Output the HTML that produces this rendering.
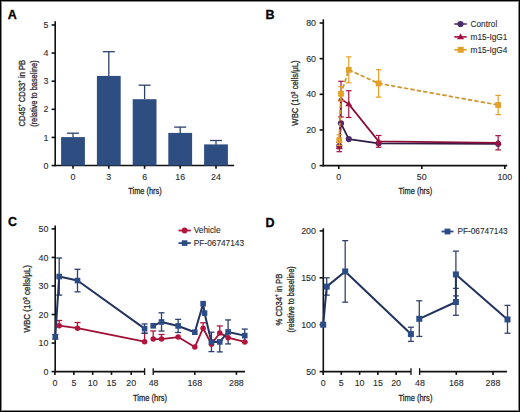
<!DOCTYPE html>
<html><head><meta charset="utf-8"><style>
html,body{margin:0;padding:0;background:#fff;}
#fig{width:520px;height:412px;overflow:hidden;position:relative;background:#fff;}
svg{display:block;font-family:"Liberation Sans", sans-serif;}
text{stroke:#2a2a2a;stroke-width:0.1px;}
text.t{stroke-width:0.3px;}
</style></head><body><div id="fig">
<svg width="520" height="412" viewBox="0 0 520 412">
<text x="7.80" y="19.00" font-size="12.5" text-anchor="start" fill="#000" font-weight="bold" style="stroke:#000;stroke-width:0.3px">A</text>
<text x="265.50" y="19.20" font-size="12.5" text-anchor="start" fill="#000" font-weight="bold" style="stroke:#000;stroke-width:0.3px">B</text>
<text x="8.00" y="226.30" font-size="12.5" text-anchor="start" fill="#000" font-weight="bold" style="stroke:#000;stroke-width:0.3px">C</text>
<text x="265.40" y="226.50" font-size="12.5" text-anchor="start" fill="#000" font-weight="bold" style="stroke:#000;stroke-width:0.3px">D</text>
<line x1="55.20" y1="21.30" x2="55.20" y2="166.30" stroke="#111" stroke-width="1.6" />
<line x1="54.40" y1="165.55" x2="234.20" y2="165.55" stroke="#111" stroke-width="1.6" />
<line x1="51.60" y1="165.55" x2="55.20" y2="165.55" stroke="#111" stroke-width="1.6" />
<text x="48.40" y="168.65" font-size="8.9" text-anchor="end" fill="#2a2a2a" font-weight="normal" >0</text>
<line x1="51.60" y1="137.43" x2="55.20" y2="137.43" stroke="#111" stroke-width="1.6" />
<text x="48.40" y="140.53" font-size="8.9" text-anchor="end" fill="#2a2a2a" font-weight="normal" >1</text>
<line x1="51.60" y1="109.31" x2="55.20" y2="109.31" stroke="#111" stroke-width="1.6" />
<text x="48.40" y="112.41" font-size="8.9" text-anchor="end" fill="#2a2a2a" font-weight="normal" >2</text>
<line x1="51.60" y1="81.19" x2="55.20" y2="81.19" stroke="#111" stroke-width="1.6" />
<text x="48.40" y="84.29" font-size="8.9" text-anchor="end" fill="#2a2a2a" font-weight="normal" >3</text>
<line x1="51.60" y1="53.07" x2="55.20" y2="53.07" stroke="#111" stroke-width="1.6" />
<text x="48.40" y="56.17" font-size="8.9" text-anchor="end" fill="#2a2a2a" font-weight="normal" >4</text>
<line x1="51.60" y1="24.95" x2="55.20" y2="24.95" stroke="#111" stroke-width="1.6" />
<text x="48.40" y="28.05" font-size="8.9" text-anchor="end" fill="#2a2a2a" font-weight="normal" >5</text>
<line x1="73.00" y1="137.10" x2="73.00" y2="133.20" stroke="#2d416b" stroke-width="1.3" />
<line x1="67.00" y1="133.20" x2="79.00" y2="133.20" stroke="#2d416b" stroke-width="1.3" />
<rect x="61.10" y="137.10" width="23.8" height="28.45" fill="#2e4d80"/>
<line x1="73.00" y1="165.55" x2="73.00" y2="168.85" stroke="#111" stroke-width="1.6" />
<text x="73.00" y="180.30" font-size="8.9" text-anchor="middle" fill="#2a2a2a" font-weight="normal" >0</text>
<line x1="108.80" y1="75.90" x2="108.80" y2="51.70" stroke="#2d416b" stroke-width="1.3" />
<line x1="102.80" y1="51.70" x2="114.80" y2="51.70" stroke="#2d416b" stroke-width="1.3" />
<rect x="96.90" y="75.90" width="23.8" height="89.65" fill="#2e4d80"/>
<line x1="108.80" y1="165.55" x2="108.80" y2="168.85" stroke="#111" stroke-width="1.6" />
<text x="108.80" y="180.30" font-size="8.9" text-anchor="middle" fill="#2a2a2a" font-weight="normal" >3</text>
<line x1="144.60" y1="99.20" x2="144.60" y2="85.20" stroke="#2d416b" stroke-width="1.3" />
<line x1="138.60" y1="85.20" x2="150.60" y2="85.20" stroke="#2d416b" stroke-width="1.3" />
<rect x="132.70" y="99.20" width="23.8" height="66.35" fill="#2e4d80"/>
<line x1="144.60" y1="165.55" x2="144.60" y2="168.85" stroke="#111" stroke-width="1.6" />
<text x="144.60" y="180.30" font-size="8.9" text-anchor="middle" fill="#2a2a2a" font-weight="normal" >6</text>
<line x1="180.20" y1="132.90" x2="180.20" y2="127.10" stroke="#2d416b" stroke-width="1.3" />
<line x1="174.20" y1="127.10" x2="186.20" y2="127.10" stroke="#2d416b" stroke-width="1.3" />
<rect x="168.30" y="132.90" width="23.8" height="32.65" fill="#2e4d80"/>
<line x1="180.20" y1="165.55" x2="180.20" y2="168.85" stroke="#111" stroke-width="1.6" />
<text x="180.20" y="180.30" font-size="8.9" text-anchor="middle" fill="#2a2a2a" font-weight="normal" >16</text>
<line x1="216.00" y1="144.40" x2="216.00" y2="140.50" stroke="#2d416b" stroke-width="1.3" />
<line x1="210.00" y1="140.50" x2="222.00" y2="140.50" stroke="#2d416b" stroke-width="1.3" />
<rect x="204.10" y="144.40" width="23.8" height="21.15" fill="#2e4d80"/>
<line x1="216.00" y1="165.55" x2="216.00" y2="168.85" stroke="#111" stroke-width="1.6" />
<text x="216.00" y="180.30" font-size="8.9" text-anchor="middle" fill="#2a2a2a" font-weight="normal" >24</text>
<text class="t" x="128.30" y="194.30" font-size="9.3" fill="#2a2a2a" textLength="33.4" lengthAdjust="spacingAndGlyphs">Time (hrs)</text>
<text class="t" transform="translate(25.00,93.20) rotate(-90)" x="0" y="0" font-size="9.3" text-anchor="middle" fill="#2a2a2a" textLength="66.5" lengthAdjust="spacingAndGlyphs">CD45<tspan font-size="5.8" dy="-3.6">+</tspan><tspan dy="3.6"> CD33</tspan><tspan font-size="5.8" dy="-3.6">+</tspan><tspan dy="3.6"> in PB</tspan></text>
<text class="t" transform="translate(36.80,93.60) rotate(-90)" x="0" y="0" font-size="9.3" text-anchor="middle" fill="#2a2a2a" textLength="66.5" lengthAdjust="spacingAndGlyphs">(relative to baseline)</text>
<line x1="323.30" y1="19.30" x2="323.30" y2="166.35" stroke="#111" stroke-width="1.6" />
<line x1="322.50" y1="165.60" x2="507.20" y2="165.60" stroke="#111" stroke-width="1.6" />
<line x1="319.60" y1="165.60" x2="323.30" y2="165.60" stroke="#111" stroke-width="1.6" />
<text x="316.00" y="168.70" font-size="8.9" text-anchor="end" fill="#2a2a2a" font-weight="normal" >0</text>
<line x1="319.60" y1="129.95" x2="323.30" y2="129.95" stroke="#111" stroke-width="1.6" />
<text x="316.00" y="133.05" font-size="8.9" text-anchor="end" fill="#2a2a2a" font-weight="normal" >20</text>
<line x1="319.60" y1="94.30" x2="323.30" y2="94.30" stroke="#111" stroke-width="1.6" />
<text x="316.00" y="97.40" font-size="8.9" text-anchor="end" fill="#2a2a2a" font-weight="normal" >40</text>
<line x1="319.60" y1="58.65" x2="323.30" y2="58.65" stroke="#111" stroke-width="1.6" />
<text x="316.00" y="61.75" font-size="8.9" text-anchor="end" fill="#2a2a2a" font-weight="normal" >60</text>
<line x1="319.60" y1="23.00" x2="323.30" y2="23.00" stroke="#111" stroke-width="1.6" />
<text x="316.00" y="26.10" font-size="8.9" text-anchor="end" fill="#2a2a2a" font-weight="normal" >80</text>
<line x1="338.80" y1="165.60" x2="338.80" y2="168.90" stroke="#111" stroke-width="1.6" />
<text x="338.80" y="180.30" font-size="8.9" text-anchor="middle" fill="#2a2a2a" font-weight="normal" >0</text>
<line x1="421.80" y1="165.60" x2="421.80" y2="168.90" stroke="#111" stroke-width="1.6" />
<text x="421.80" y="180.30" font-size="8.9" text-anchor="middle" fill="#2a2a2a" font-weight="normal" >50</text>
<line x1="504.80" y1="165.60" x2="504.80" y2="168.90" stroke="#111" stroke-width="1.6" />
<text x="504.80" y="180.30" font-size="8.9" text-anchor="middle" fill="#2a2a2a" font-weight="normal" >100</text>
<text class="t" x="398.60" y="194.30" font-size="9.3" fill="#2a2a2a" textLength="33.6" lengthAdjust="spacingAndGlyphs">Time (hrs)</text>
<text class="t" transform="translate(298.30,93.00) rotate(-90)" x="0" y="0" font-size="9.3" text-anchor="middle" fill="#2a2a2a" textLength="65.3" lengthAdjust="spacingAndGlyphs">WBC (10<tspan font-size="5.8" dy="-3.6">3</tspan><tspan dy="3.6"> cells/μL)</tspan></text>
<polyline points="339.30,145.99 341.00,123.35 348.76,139.04 378.64,143.32 498.16,143.85" fill="none" stroke="#2e1c45" stroke-width="1.7" stroke-linejoin="round" />
<circle cx="339.30" cy="145.99" r="3.1" fill="#4b2d6b"/>
<circle cx="341.00" cy="123.35" r="3.1" fill="#4b2d6b"/>
<circle cx="348.76" cy="139.04" r="3.1" fill="#4b2d6b"/>
<circle cx="378.64" cy="143.32" r="3.1" fill="#4b2d6b"/>
<circle cx="498.16" cy="143.85" r="3.1" fill="#4b2d6b"/>
<line x1="339.30" y1="142.43" x2="339.30" y2="151.70" stroke="#a3123f" stroke-width="1.2" />
<line x1="336.50" y1="142.43" x2="342.10" y2="142.43" stroke="#a3123f" stroke-width="1.2" />
<line x1="336.50" y1="151.70" x2="342.10" y2="151.70" stroke="#a3123f" stroke-width="1.2" />
<line x1="341.00" y1="81.29" x2="341.00" y2="116.94" stroke="#a3123f" stroke-width="1.2" />
<line x1="338.20" y1="81.29" x2="343.80" y2="81.29" stroke="#a3123f" stroke-width="1.2" />
<line x1="338.20" y1="116.94" x2="343.80" y2="116.94" stroke="#a3123f" stroke-width="1.2" />
<line x1="348.76" y1="90.73" x2="348.76" y2="117.47" stroke="#a3123f" stroke-width="1.2" />
<line x1="345.96" y1="90.73" x2="351.56" y2="90.73" stroke="#a3123f" stroke-width="1.2" />
<line x1="345.96" y1="117.47" x2="351.56" y2="117.47" stroke="#a3123f" stroke-width="1.2" />
<line x1="378.64" y1="135.48" x2="378.64" y2="147.24" stroke="#a3123f" stroke-width="1.2" />
<line x1="375.84" y1="135.48" x2="381.44" y2="135.48" stroke="#a3123f" stroke-width="1.2" />
<line x1="375.84" y1="147.24" x2="381.44" y2="147.24" stroke="#a3123f" stroke-width="1.2" />
<line x1="498.16" y1="135.65" x2="498.16" y2="149.91" stroke="#a3123f" stroke-width="1.2" />
<line x1="495.36" y1="135.65" x2="500.96" y2="135.65" stroke="#a3123f" stroke-width="1.2" />
<line x1="495.36" y1="149.91" x2="500.96" y2="149.91" stroke="#a3123f" stroke-width="1.2" />
<polyline points="339.30,147.06 341.00,99.11 348.76,104.10 378.64,141.36 498.16,142.78" fill="none" stroke="#8a0e38" stroke-width="1.7" stroke-linejoin="round" />
<polygon points="339.30,143.70 342.80,149.30 335.80,149.30" fill="#a3123f"/>
<polygon points="341.00,95.75 344.50,101.35 337.50,101.35" fill="#a3123f"/>
<polygon points="348.76,100.74 352.26,106.34 345.26,106.34" fill="#a3123f"/>
<polygon points="378.64,138.00 382.14,143.60 375.14,143.60" fill="#a3123f"/>
<polygon points="498.16,139.42 501.66,145.02 494.66,145.02" fill="#a3123f"/>
<line x1="339.30" y1="134.76" x2="339.30" y2="145.46" stroke="#e3a028" stroke-width="1.2" />
<line x1="336.50" y1="134.76" x2="342.10" y2="134.76" stroke="#e3a028" stroke-width="1.2" />
<line x1="336.50" y1="145.46" x2="342.10" y2="145.46" stroke="#e3a028" stroke-width="1.2" />
<line x1="341.00" y1="86.64" x2="341.00" y2="100.90" stroke="#e3a028" stroke-width="1.2" />
<line x1="338.20" y1="86.64" x2="343.80" y2="86.64" stroke="#e3a028" stroke-width="1.2" />
<line x1="338.20" y1="100.90" x2="343.80" y2="100.90" stroke="#e3a028" stroke-width="1.2" />
<line x1="348.76" y1="56.87" x2="348.76" y2="82.89" stroke="#e3a028" stroke-width="1.2" />
<line x1="345.96" y1="56.87" x2="351.56" y2="56.87" stroke="#e3a028" stroke-width="1.2" />
<line x1="345.96" y1="82.89" x2="351.56" y2="82.89" stroke="#e3a028" stroke-width="1.2" />
<line x1="378.64" y1="69.70" x2="378.64" y2="97.15" stroke="#e3a028" stroke-width="1.2" />
<line x1="375.84" y1="69.70" x2="381.44" y2="69.70" stroke="#e3a028" stroke-width="1.2" />
<line x1="375.84" y1="97.15" x2="381.44" y2="97.15" stroke="#e3a028" stroke-width="1.2" />
<line x1="498.16" y1="95.37" x2="498.16" y2="114.62" stroke="#e3a028" stroke-width="1.2" />
<line x1="495.36" y1="95.37" x2="500.96" y2="95.37" stroke="#e3a028" stroke-width="1.2" />
<line x1="495.36" y1="114.62" x2="500.96" y2="114.62" stroke="#e3a028" stroke-width="1.2" />
<polyline points="339.30,140.11 341.00,93.77 348.76,69.88 378.64,83.43 498.16,105.00" fill="none" stroke="#cc9530" stroke-width="1.7" stroke-linejoin="round" stroke-dasharray="4.4 2.1"/>
<rect x="336.40" y="137.21" width="5.8" height="5.8" fill="#e3a028"/>
<rect x="338.10" y="90.87" width="5.8" height="5.8" fill="#e3a028"/>
<rect x="345.86" y="66.98" width="5.8" height="5.8" fill="#e3a028"/>
<rect x="375.74" y="80.53" width="5.8" height="5.8" fill="#e3a028"/>
<rect x="495.26" y="102.09" width="5.8" height="5.8" fill="#e3a028"/>
<line x1="454.30" y1="24.00" x2="466.70" y2="24.00" stroke="#4b2d6b" stroke-width="1.6" />
<circle cx="460.50" cy="24.00" r="3.1" fill="#4b2d6b"/>
<text x="470.50" y="27.00" font-size="8.3" text-anchor="start" fill="#2a2a2a" font-weight="normal" >Control</text>
<line x1="454.30" y1="36.90" x2="466.70" y2="36.90" stroke="#a3123f" stroke-width="1.6" />
<polygon points="460.50,33.44 464.10,39.20 456.90,39.20" fill="#a3123f"/>
<text x="470.50" y="39.90" font-size="8.3" text-anchor="start" fill="#2a2a2a" font-weight="normal" >m15-IgG1</text>
<line x1="454.30" y1="49.80" x2="466.70" y2="49.80" stroke="#e3a028" stroke-width="1.6" />
<rect x="457.70" y="46.80" width="6.0" height="6.0" fill="#e3a028"/>
<text x="470.50" y="52.80" font-size="8.3" text-anchor="start" fill="#2a2a2a" font-weight="normal" >m15-IgG4</text>
<line x1="55.20" y1="225.40" x2="55.20" y2="372.35" stroke="#111" stroke-width="1.6" />
<line x1="51.60" y1="371.60" x2="55.20" y2="371.60" stroke="#111" stroke-width="1.6" />
<text x="48.40" y="374.70" font-size="8.9" text-anchor="end" fill="#2a2a2a" font-weight="normal" >0</text>
<line x1="51.60" y1="343.06" x2="55.20" y2="343.06" stroke="#111" stroke-width="1.6" />
<text x="48.40" y="346.16" font-size="8.9" text-anchor="end" fill="#2a2a2a" font-weight="normal" >10</text>
<line x1="51.60" y1="314.52" x2="55.20" y2="314.52" stroke="#111" stroke-width="1.6" />
<text x="48.40" y="317.62" font-size="8.9" text-anchor="end" fill="#2a2a2a" font-weight="normal" >20</text>
<line x1="51.60" y1="285.98" x2="55.20" y2="285.98" stroke="#111" stroke-width="1.6" />
<text x="48.40" y="289.08" font-size="8.9" text-anchor="end" fill="#2a2a2a" font-weight="normal" >30</text>
<line x1="51.60" y1="257.44" x2="55.20" y2="257.44" stroke="#111" stroke-width="1.6" />
<text x="48.40" y="260.54" font-size="8.9" text-anchor="end" fill="#2a2a2a" font-weight="normal" >40</text>
<line x1="51.60" y1="228.90" x2="55.20" y2="228.90" stroke="#111" stroke-width="1.6" />
<text x="48.40" y="232.00" font-size="8.9" text-anchor="end" fill="#2a2a2a" font-weight="normal" >50</text>
<line x1="54.40" y1="371.60" x2="144.60" y2="371.60" stroke="#111" stroke-width="1.6" />
<line x1="144.60" y1="368.20" x2="144.60" y2="375.00" stroke="#111" stroke-width="1.3" />
<line x1="153.20" y1="371.60" x2="245.00" y2="371.60" stroke="#111" stroke-width="1.6" />
<line x1="153.20" y1="368.20" x2="153.20" y2="375.00" stroke="#111" stroke-width="1.3" />
<line x1="54.90" y1="371.60" x2="54.90" y2="374.90" stroke="#111" stroke-width="1.6" />
<text x="54.90" y="386.10" font-size="8.9" text-anchor="middle" fill="#2a2a2a" font-weight="normal" >0</text>
<line x1="73.90" y1="371.60" x2="73.90" y2="374.90" stroke="#111" stroke-width="1.6" />
<text x="73.90" y="386.10" font-size="8.9" text-anchor="middle" fill="#2a2a2a" font-weight="normal" >5</text>
<line x1="92.70" y1="371.60" x2="92.70" y2="374.90" stroke="#111" stroke-width="1.6" />
<text x="92.70" y="386.10" font-size="8.9" text-anchor="middle" fill="#2a2a2a" font-weight="normal" >10</text>
<line x1="111.50" y1="371.60" x2="111.50" y2="374.90" stroke="#111" stroke-width="1.6" />
<text x="111.50" y="386.10" font-size="8.9" text-anchor="middle" fill="#2a2a2a" font-weight="normal" >15</text>
<line x1="131.20" y1="371.60" x2="131.20" y2="374.90" stroke="#111" stroke-width="1.6" />
<text x="131.20" y="386.10" font-size="8.9" text-anchor="middle" fill="#2a2a2a" font-weight="normal" >20</text>
<text x="153.60" y="386.10" font-size="8.9" text-anchor="middle" fill="#2a2a2a" font-weight="normal" >48</text>
<line x1="194.80" y1="371.60" x2="194.80" y2="374.90" stroke="#111" stroke-width="1.6" />
<text x="194.80" y="386.10" font-size="8.9" text-anchor="middle" fill="#2a2a2a" font-weight="normal" >168</text>
<line x1="236.41" y1="371.60" x2="236.41" y2="374.90" stroke="#111" stroke-width="1.6" />
<text x="236.41" y="386.10" font-size="8.9" text-anchor="middle" fill="#2a2a2a" font-weight="normal" >288</text>
<text class="t" x="133.00" y="400.60" font-size="9.3" fill="#2a2a2a" textLength="34.0" lengthAdjust="spacingAndGlyphs">Time (hrs)</text>
<text class="t" transform="translate(30.20,298.80) rotate(-90)" x="0" y="0" font-size="9.3" text-anchor="middle" fill="#2a2a2a" textLength="67.5" lengthAdjust="spacingAndGlyphs">WBC (10<tspan font-size="5.8" dy="-3.6">3</tspan><tspan dy="3.6"> cells/μL)</tspan></text>
<line x1="59.20" y1="320.51" x2="59.20" y2="325.65" stroke="#b3143e" stroke-width="1.3" />
<line x1="56.20" y1="320.51" x2="62.20" y2="320.51" stroke="#b3143e" stroke-width="1.3" />
<line x1="77.50" y1="322.51" x2="77.50" y2="328.22" stroke="#b3143e" stroke-width="1.3" />
<line x1="74.50" y1="322.51" x2="80.50" y2="322.51" stroke="#b3143e" stroke-width="1.3" />
<line x1="144.60" y1="333.07" x2="144.60" y2="341.63" stroke="#b3143e" stroke-width="1.3" />
<line x1="141.60" y1="333.07" x2="147.60" y2="333.07" stroke="#b3143e" stroke-width="1.3" />
<line x1="153.20" y1="330.93" x2="153.20" y2="339.06" stroke="#b3143e" stroke-width="1.3" />
<line x1="150.20" y1="330.93" x2="156.20" y2="330.93" stroke="#b3143e" stroke-width="1.3" />
<line x1="161.52" y1="334.50" x2="161.52" y2="339.06" stroke="#b3143e" stroke-width="1.3" />
<line x1="158.52" y1="334.50" x2="164.52" y2="334.50" stroke="#b3143e" stroke-width="1.3" />
<line x1="203.12" y1="322.80" x2="203.12" y2="328.22" stroke="#b3143e" stroke-width="1.3" />
<line x1="200.12" y1="322.80" x2="206.12" y2="322.80" stroke="#b3143e" stroke-width="1.3" />
<line x1="219.77" y1="325.94" x2="219.77" y2="333.07" stroke="#b3143e" stroke-width="1.3" />
<line x1="216.77" y1="325.94" x2="222.77" y2="325.94" stroke="#b3143e" stroke-width="1.3" />
<line x1="55.30" y1="334.50" x2="55.30" y2="339.06" stroke="#2b3f6e" stroke-width="1.3" />
<line x1="52.30" y1="334.50" x2="58.30" y2="334.50" stroke="#2b3f6e" stroke-width="1.3" />
<line x1="52.30" y1="339.06" x2="58.30" y2="339.06" stroke="#2b3f6e" stroke-width="1.3" />
<line x1="59.20" y1="258.01" x2="59.20" y2="295.11" stroke="#2b3f6e" stroke-width="1.3" />
<line x1="56.20" y1="258.01" x2="62.20" y2="258.01" stroke="#2b3f6e" stroke-width="1.3" />
<line x1="56.20" y1="295.11" x2="62.20" y2="295.11" stroke="#2b3f6e" stroke-width="1.3" />
<line x1="77.50" y1="269.28" x2="77.50" y2="291.83" stroke="#2b3f6e" stroke-width="1.3" />
<line x1="74.50" y1="269.28" x2="80.50" y2="269.28" stroke="#2b3f6e" stroke-width="1.3" />
<line x1="74.50" y1="291.83" x2="80.50" y2="291.83" stroke="#2b3f6e" stroke-width="1.3" />
<line x1="144.60" y1="323.94" x2="144.60" y2="333.36" stroke="#2b3f6e" stroke-width="1.3" />
<line x1="141.60" y1="323.94" x2="147.60" y2="323.94" stroke="#2b3f6e" stroke-width="1.3" />
<line x1="141.60" y1="333.36" x2="147.60" y2="333.36" stroke="#2b3f6e" stroke-width="1.3" />
<line x1="161.52" y1="312.81" x2="161.52" y2="331.07" stroke="#2b3f6e" stroke-width="1.3" />
<line x1="158.52" y1="312.81" x2="164.52" y2="312.81" stroke="#2b3f6e" stroke-width="1.3" />
<line x1="158.52" y1="331.07" x2="164.52" y2="331.07" stroke="#2b3f6e" stroke-width="1.3" />
<line x1="178.16" y1="319.37" x2="178.16" y2="332.50" stroke="#2b3f6e" stroke-width="1.3" />
<line x1="175.16" y1="319.37" x2="181.16" y2="319.37" stroke="#2b3f6e" stroke-width="1.3" />
<line x1="175.16" y1="332.50" x2="181.16" y2="332.50" stroke="#2b3f6e" stroke-width="1.3" />
<line x1="211.45" y1="332.21" x2="211.45" y2="351.62" stroke="#2b3f6e" stroke-width="1.3" />
<line x1="208.45" y1="332.21" x2="214.45" y2="332.21" stroke="#2b3f6e" stroke-width="1.3" />
<line x1="208.45" y1="351.62" x2="214.45" y2="351.62" stroke="#2b3f6e" stroke-width="1.3" />
<line x1="219.77" y1="340.49" x2="219.77" y2="351.91" stroke="#2b3f6e" stroke-width="1.3" />
<line x1="216.77" y1="340.49" x2="222.77" y2="340.49" stroke="#2b3f6e" stroke-width="1.3" />
<line x1="216.77" y1="351.91" x2="222.77" y2="351.91" stroke="#2b3f6e" stroke-width="1.3" />
<line x1="228.09" y1="319.94" x2="228.09" y2="343.92" stroke="#2b3f6e" stroke-width="1.3" />
<line x1="225.09" y1="319.94" x2="231.09" y2="319.94" stroke="#2b3f6e" stroke-width="1.3" />
<line x1="225.09" y1="343.92" x2="231.09" y2="343.92" stroke="#2b3f6e" stroke-width="1.3" />
<line x1="244.73" y1="329.08" x2="244.73" y2="342.20" stroke="#2b3f6e" stroke-width="1.3" />
<line x1="241.73" y1="329.08" x2="247.73" y2="329.08" stroke="#2b3f6e" stroke-width="1.3" />
<line x1="241.73" y1="342.20" x2="247.73" y2="342.20" stroke="#2b3f6e" stroke-width="1.3" />
<polyline points="59.20,325.65 77.50,328.22 144.60,341.63" fill="none" stroke="#a00f34" stroke-width="1.8" stroke-linejoin="round" />
<polyline points="153.20,339.06 161.52,339.06 178.16,337.07 194.80,347.06 203.12,328.22 211.45,344.20 219.77,333.07 228.09,337.64 244.73,341.92" fill="none" stroke="#a00f34" stroke-width="1.8" stroke-linejoin="round" />
<polyline points="55.30,336.78 59.20,276.56 77.50,280.56 144.60,328.65" fill="none" stroke="#223360" stroke-width="2.0" stroke-linejoin="round" />
<polyline points="153.20,325.82 161.52,321.94 178.16,325.94 194.80,332.21 203.12,303.67 204.51,313.09 211.45,341.92 219.77,341.92 228.09,331.93 244.73,335.64" fill="none" stroke="#223360" stroke-width="2.0" stroke-linejoin="round" />
<circle cx="59.20" cy="325.65" r="2.75" fill="#b3143e"/>
<circle cx="77.50" cy="328.22" r="2.75" fill="#b3143e"/>
<circle cx="144.60" cy="341.63" r="2.75" fill="#b3143e"/>
<circle cx="153.20" cy="339.06" r="2.75" fill="#b3143e"/>
<circle cx="161.52" cy="339.06" r="2.75" fill="#b3143e"/>
<circle cx="178.16" cy="337.07" r="2.75" fill="#b3143e"/>
<circle cx="194.80" cy="347.06" r="2.75" fill="#b3143e"/>
<circle cx="203.12" cy="328.22" r="2.75" fill="#b3143e"/>
<circle cx="211.45" cy="344.20" r="2.75" fill="#b3143e"/>
<circle cx="219.77" cy="333.07" r="2.75" fill="#b3143e"/>
<circle cx="228.09" cy="337.64" r="2.75" fill="#b3143e"/>
<circle cx="244.73" cy="341.92" r="2.75" fill="#b3143e"/>
<rect x="52.50" y="333.98" width="5.6" height="5.6" fill="#2c4c85"/>
<rect x="56.40" y="273.76" width="5.6" height="5.6" fill="#2c4c85"/>
<rect x="74.70" y="277.76" width="5.6" height="5.6" fill="#2c4c85"/>
<rect x="141.80" y="325.85" width="5.6" height="5.6" fill="#2c4c85"/>
<rect x="150.40" y="323.02" width="5.6" height="5.6" fill="#2c4c85"/>
<rect x="158.72" y="319.14" width="5.6" height="5.6" fill="#2c4c85"/>
<rect x="175.36" y="323.14" width="5.6" height="5.6" fill="#2c4c85"/>
<rect x="192.00" y="329.41" width="5.6" height="5.6" fill="#2c4c85"/>
<rect x="200.32" y="300.87" width="5.6" height="5.6" fill="#2c4c85"/>
<rect x="201.71" y="310.29" width="5.6" height="5.6" fill="#2c4c85"/>
<rect x="208.65" y="339.12" width="5.6" height="5.6" fill="#2c4c85"/>
<rect x="216.97" y="339.12" width="5.6" height="5.6" fill="#2c4c85"/>
<rect x="225.29" y="329.13" width="5.6" height="5.6" fill="#2c4c85"/>
<rect x="241.93" y="332.84" width="5.6" height="5.6" fill="#2c4c85"/>
<line x1="178.50" y1="230.50" x2="190.80" y2="230.50" stroke="#b3143e" stroke-width="1.8" />
<circle cx="184.60" cy="230.50" r="2.9" fill="#b3143e"/>
<text x="193.80" y="233.40" font-size="8.3" text-anchor="start" fill="#2a2a2a" font-weight="normal" >Vehicle</text>
<line x1="178.50" y1="243.10" x2="190.80" y2="243.10" stroke="#2c4c85" stroke-width="1.8" />
<rect x="181.80" y="240.30" width="5.6" height="5.6" fill="#2c4c85"/>
<text x="193.80" y="246.00" font-size="8.3" text-anchor="start" fill="#2a2a2a" font-weight="normal" >PF-06747143</text>
<line x1="323.30" y1="228.30" x2="323.30" y2="372.35" stroke="#111" stroke-width="1.6" />
<line x1="319.60" y1="371.60" x2="323.30" y2="371.60" stroke="#111" stroke-width="1.6" />
<text x="316.00" y="374.70" font-size="8.9" text-anchor="end" fill="#2a2a2a" font-weight="normal" >50</text>
<line x1="319.60" y1="324.70" x2="323.30" y2="324.70" stroke="#111" stroke-width="1.6" />
<text x="316.00" y="327.80" font-size="8.9" text-anchor="end" fill="#2a2a2a" font-weight="normal" >100</text>
<line x1="319.60" y1="277.80" x2="323.30" y2="277.80" stroke="#111" stroke-width="1.6" />
<text x="316.00" y="280.90" font-size="8.9" text-anchor="end" fill="#2a2a2a" font-weight="normal" >150</text>
<line x1="319.60" y1="230.90" x2="323.30" y2="230.90" stroke="#111" stroke-width="1.6" />
<text x="316.00" y="234.00" font-size="8.9" text-anchor="end" fill="#2a2a2a" font-weight="normal" >200</text>
<line x1="322.50" y1="371.60" x2="411.00" y2="371.60" stroke="#111" stroke-width="1.6" />
<line x1="411.00" y1="368.20" x2="411.00" y2="375.00" stroke="#111" stroke-width="1.3" />
<line x1="419.60" y1="371.60" x2="507.00" y2="371.60" stroke="#111" stroke-width="1.6" />
<line x1="419.60" y1="368.20" x2="419.60" y2="375.00" stroke="#111" stroke-width="1.3" />
<line x1="323.20" y1="371.60" x2="323.20" y2="374.90" stroke="#111" stroke-width="1.6" />
<text x="323.20" y="386.10" font-size="8.9" text-anchor="middle" fill="#2a2a2a" font-weight="normal" >0</text>
<line x1="341.30" y1="371.60" x2="341.30" y2="374.90" stroke="#111" stroke-width="1.6" />
<text x="341.30" y="386.10" font-size="8.9" text-anchor="middle" fill="#2a2a2a" font-weight="normal" >5</text>
<line x1="359.60" y1="371.60" x2="359.60" y2="374.90" stroke="#111" stroke-width="1.6" />
<text x="359.60" y="386.10" font-size="8.9" text-anchor="middle" fill="#2a2a2a" font-weight="normal" >10</text>
<line x1="377.90" y1="371.60" x2="377.90" y2="374.90" stroke="#111" stroke-width="1.6" />
<text x="377.90" y="386.10" font-size="8.9" text-anchor="middle" fill="#2a2a2a" font-weight="normal" >15</text>
<line x1="396.10" y1="371.60" x2="396.10" y2="374.90" stroke="#111" stroke-width="1.6" />
<text x="396.10" y="386.10" font-size="8.9" text-anchor="middle" fill="#2a2a2a" font-weight="normal" >20</text>
<text x="420.00" y="386.10" font-size="8.9" text-anchor="middle" fill="#2a2a2a" font-weight="normal" >48</text>
<line x1="456.30" y1="371.60" x2="456.30" y2="374.90" stroke="#111" stroke-width="1.6" />
<text x="456.30" y="386.10" font-size="8.9" text-anchor="middle" fill="#2a2a2a" font-weight="normal" >168</text>
<line x1="492.99" y1="371.60" x2="492.99" y2="374.90" stroke="#111" stroke-width="1.6" />
<text x="492.99" y="386.10" font-size="8.9" text-anchor="middle" fill="#2a2a2a" font-weight="normal" >288</text>
<text class="t" x="398.40" y="400.60" font-size="9.3" fill="#2a2a2a" textLength="34.0" lengthAdjust="spacingAndGlyphs">Time (hrs)</text>
<text class="t" transform="translate(281.60,299.60) rotate(-90)" x="0" y="0" font-size="9.3" text-anchor="middle" fill="#2a2a2a" textLength="52.0" lengthAdjust="spacingAndGlyphs">% CD34<tspan font-size="5.8" dy="-3.6">+</tspan><tspan dy="3.6"> in PB</tspan></text>
<text class="t" transform="translate(293.80,299.40) rotate(-90)" x="0" y="0" font-size="9.3" text-anchor="middle" fill="#2a2a2a" textLength="66.2" lengthAdjust="spacingAndGlyphs">(relative to baseline)</text>
<line x1="326.70" y1="277.80" x2="326.70" y2="295.15" stroke="#36426c" stroke-width="1.3" />
<line x1="323.70" y1="277.80" x2="329.70" y2="277.80" stroke="#36426c" stroke-width="1.3" />
<line x1="323.70" y1="295.15" x2="329.70" y2="295.15" stroke="#36426c" stroke-width="1.3" />
<line x1="345.20" y1="240.66" x2="345.20" y2="302.19" stroke="#36426c" stroke-width="1.3" />
<line x1="342.20" y1="240.66" x2="348.20" y2="240.66" stroke="#36426c" stroke-width="1.3" />
<line x1="342.20" y1="302.19" x2="348.20" y2="302.19" stroke="#36426c" stroke-width="1.3" />
<line x1="410.90" y1="327.23" x2="410.90" y2="341.40" stroke="#36426c" stroke-width="1.3" />
<line x1="407.90" y1="327.23" x2="413.90" y2="327.23" stroke="#36426c" stroke-width="1.3" />
<line x1="407.90" y1="341.40" x2="413.90" y2="341.40" stroke="#36426c" stroke-width="1.3" />
<line x1="419.30" y1="300.78" x2="419.30" y2="336.43" stroke="#36426c" stroke-width="1.3" />
<line x1="416.30" y1="300.78" x2="422.30" y2="300.78" stroke="#36426c" stroke-width="1.3" />
<line x1="416.30" y1="336.43" x2="422.30" y2="336.43" stroke="#36426c" stroke-width="1.3" />
<line x1="455.90" y1="295.90" x2="455.90" y2="315.32" stroke="#36426c" stroke-width="1.3" />
<line x1="452.90" y1="295.90" x2="458.90" y2="295.90" stroke="#36426c" stroke-width="1.3" />
<line x1="452.90" y1="315.32" x2="458.90" y2="315.32" stroke="#36426c" stroke-width="1.3" />
<line x1="455.90" y1="251.16" x2="455.90" y2="288.40" stroke="#36426c" stroke-width="1.3" />
<line x1="452.90" y1="251.16" x2="458.90" y2="251.16" stroke="#36426c" stroke-width="1.3" />
<line x1="452.90" y1="288.40" x2="458.90" y2="288.40" stroke="#36426c" stroke-width="1.3" />
<line x1="507.50" y1="305.38" x2="507.50" y2="333.24" stroke="#36426c" stroke-width="1.3" />
<line x1="504.50" y1="305.38" x2="510.50" y2="305.38" stroke="#36426c" stroke-width="1.3" />
<line x1="504.50" y1="333.24" x2="510.50" y2="333.24" stroke="#36426c" stroke-width="1.3" />
<polyline points="323.20,324.70 326.70,286.62 345.20,271.42 410.90,334.08" fill="none" stroke="#223360" stroke-width="2.0" stroke-linejoin="round" />
<polyline points="419.30,318.79 455.90,302.00 455.90,274.42 507.50,319.45" fill="none" stroke="#223360" stroke-width="2.0" stroke-linejoin="round" />
<rect x="320.20" y="321.70" width="6.0" height="6.0" fill="#2c4c85"/>
<rect x="323.70" y="283.62" width="6.0" height="6.0" fill="#2c4c85"/>
<rect x="342.20" y="268.42" width="6.0" height="6.0" fill="#2c4c85"/>
<rect x="407.90" y="331.08" width="6.0" height="6.0" fill="#2c4c85"/>
<rect x="416.30" y="315.79" width="6.0" height="6.0" fill="#2c4c85"/>
<rect x="452.90" y="299.00" width="6.0" height="6.0" fill="#2c4c85"/>
<rect x="452.90" y="271.42" width="6.0" height="6.0" fill="#2c4c85"/>
<rect x="504.50" y="316.45" width="6.0" height="6.0" fill="#2c4c85"/>
<line x1="441.50" y1="231.50" x2="453.50" y2="231.50" stroke="#2c4c85" stroke-width="1.8" />
<rect x="444.60" y="228.60" width="5.8" height="5.8" fill="#2c4c85"/>
<text x="457.40" y="234.40" font-size="8.3" text-anchor="start" fill="#2a2a2a" font-weight="normal" >PF-06747143</text>
<rect x="1.5" y="1.5" width="517" height="409" fill="none" stroke="#888" stroke-width="1"/>
<rect x="0.5" y="0.5" width="519" height="411" fill="none" stroke="#000" stroke-width="1"/>
</svg></div></body></html>
